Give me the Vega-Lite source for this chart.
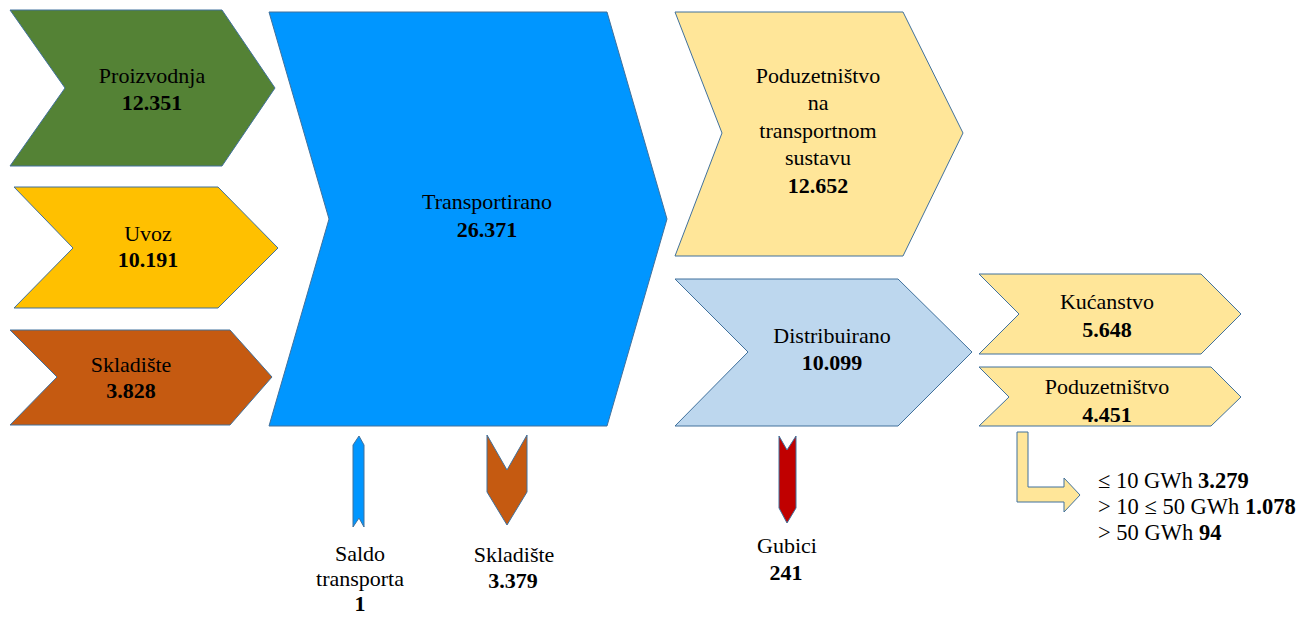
{
  "$schema": "https://vega.github.io/schema/vega-lite/v6.json",
  "width": 1303,
  "height": 618,
  "padding": 0,
  "autosize": "none",
  "background": "white",
  "config": {"view": {"stroke": null}},
  "projection": {"type": "identity", "scale": 1, "translate": [0, 0]},
  "layer": [
    {
      "data": {"values": [
        {"id": "Proizvodnja", "geo": {"type": "Feature", "properties": {}, "geometry": {"type": "Polygon", "coordinates": [[[10,10],[222,10],[275,88],[222,166],[10,166],[65,88],[10,10]]]}}},
        {"id": "Uvoz", "geo": {"type": "Feature", "properties": {}, "geometry": {"type": "Polygon", "coordinates": [[[14,187],[218,187],[278,248],[218,308],[14,308],[73,248],[14,187]]]}}},
        {"id": "Skladište ulaz", "geo": {"type": "Feature", "properties": {}, "geometry": {"type": "Polygon", "coordinates": [[[10,330],[230,330],[272,377],[230,425],[10,425],[57,377],[10,330]]]}}},
        {"id": "Transportirano", "geo": {"type": "Feature", "properties": {}, "geometry": {"type": "Polygon", "coordinates": [[[269,12],[607,12],[667,219],[607,426],[269,426],[329,219],[269,12]]]}}},
        {"id": "Poduzetništvo na transportnom sustavu", "geo": {"type": "Feature", "properties": {}, "geometry": {"type": "Polygon", "coordinates": [[[675,12],[903,12],[963,133],[903,256],[675,256],[722,133],[675,12]]]}}},
        {"id": "Distribuirano", "geo": {"type": "Feature", "properties": {}, "geometry": {"type": "Polygon", "coordinates": [[[675,279],[898,279],[972,352],[898,426],[675,426],[748,352],[675,279]]]}}},
        {"id": "Kućanstvo", "geo": {"type": "Feature", "properties": {}, "geometry": {"type": "Polygon", "coordinates": [[[979,274],[1201,274],[1241,314],[1201,354],[979,354],[1019,314],[979,274]]]}}},
        {"id": "Poduzetništvo", "geo": {"type": "Feature", "properties": {}, "geometry": {"type": "Polygon", "coordinates": [[[979,367],[1211,367],[1241,397],[1211,426],[979,426],[1009,397],[979,367]]]}}},
        {"id": "Saldo transporta", "geo": {"type": "Feature", "properties": {}, "geometry": {"type": "Polygon", "coordinates": [[[353,445],[359,436],[364,445],[364,527],[359,518],[353,527],[353,445]]]}}},
        {"id": "Skladište izlaz", "geo": {"type": "Feature", "properties": {}, "geometry": {"type": "Polygon", "coordinates": [[[487,435],[507,470],[527,435],[527,492],[507,525],[487,492],[487,435]]]}}},
        {"id": "Gubici", "geo": {"type": "Feature", "properties": {}, "geometry": {"type": "Polygon", "coordinates": [[[779,436],[787,450],[796,436],[796,508],[787,523],[779,508],[779,436]]]}}},
        {"id": "Podjela poduzetništva", "geo": {"type": "Feature", "properties": {}, "geometry": {"type": "Polygon", "coordinates": [[[1017,432],[1028,432],[1028,487],[1064,487],[1064,478],[1080,495],[1064,512],[1064,502],[1017,502],[1017,432]]]}}}
      ]},
      "mark": {"type": "geoshape", "stroke": "#41719C", "strokeWidth": 1},
      "encoding": {
        "shape": {"field": "geo", "type": "geojson"},
        "fill": {
          "field": "id",
          "type": "nominal",
          "legend": null,
          "scale": {
            "domain": ["Proizvodnja", "Uvoz", "Skladište ulaz", "Transportirano", "Poduzetništvo na transportnom sustavu", "Distribuirano", "Kućanstvo", "Poduzetništvo", "Saldo transporta", "Skladište izlaz", "Gubici", "Podjela poduzetništva"],
            "range": ["#548235", "#FFC000", "#C55A11", "#0096FF", "#FFE699", "#BDD7EE", "#FFE699", "#FFE699", "#0096FF", "#C55A11", "#C00000", "#FFE699"]
          }
        }
      }
    },
    {
      "data": {"values": [
        {"t": "Proizvodnja", "x": 152, "y": 83},
        {"t": "Uvoz", "x": 148, "y": 241},
        {"t": "Skladište", "x": 131, "y": 372},
        {"t": "Transportirano", "x": 487, "y": 209},
        {"t": "Poduzetništvo", "x": 818, "y": 83},
        {"t": "na", "x": 818, "y": 110},
        {"t": "transportnom", "x": 818, "y": 138},
        {"t": "sustavu", "x": 818, "y": 165},
        {"t": "Distribuirano", "x": 832, "y": 343},
        {"t": "Kućanstvo", "x": 1107, "y": 309},
        {"t": "Poduzetništvo", "x": 1107, "y": 394},
        {"t": "Saldo", "x": 360, "y": 561},
        {"t": "transporta", "x": 360, "y": 586},
        {"t": "Skladište", "x": 514, "y": 562},
        {"t": "Gubici", "x": 787, "y": 553}
      ]},
      "mark": {"type": "text", "font": "Liberation Serif", "fontSize": 22, "align": "center", "baseline": "alphabetic", "color": "black"},
      "encoding": {
        "longitude": {"field": "x", "type": "quantitative"},
        "latitude": {"field": "y", "type": "quantitative"},
        "text": {"field": "t", "type": "nominal"}
      }
    },
    {
      "data": {"values": [
        {"t": "12.351", "x": 152, "y": 110},
        {"t": "10.191", "x": 148, "y": 267},
        {"t": "3.828", "x": 131, "y": 398},
        {"t": "26.371", "x": 487, "y": 237},
        {"t": "12.652", "x": 818, "y": 193},
        {"t": "10.099", "x": 832, "y": 370},
        {"t": "5.648", "x": 1107, "y": 337},
        {"t": "4.451", "x": 1107, "y": 422},
        {"t": "1", "x": 360, "y": 611},
        {"t": "3.379", "x": 513, "y": 588},
        {"t": "241", "x": 786, "y": 580}
      ]},
      "mark": {"type": "text", "font": "Liberation Serif", "fontSize": 22, "fontWeight": "bold", "align": "center", "baseline": "alphabetic", "color": "black"},
      "encoding": {
        "longitude": {"field": "x", "type": "quantitative"},
        "latitude": {"field": "y", "type": "quantitative"},
        "text": {"field": "t", "type": "nominal"}
      }
    },
    {
      "data": {"values": [
        {"t": "≤ 10 GWh", "x": 1098, "y": 488},
        {"t": "> 10 ≤ 50 GWh", "x": 1098, "y": 514},
        {"t": "> 50 GWh", "x": 1098, "y": 540}
      ]},
      "mark": {"type": "text", "font": "Liberation Serif", "fontSize": 22.5, "align": "left", "baseline": "alphabetic", "color": "black"},
      "encoding": {
        "longitude": {"field": "x", "type": "quantitative"},
        "latitude": {"field": "y", "type": "quantitative"},
        "text": {"field": "t", "type": "nominal"}
      }
    },
    {
      "data": {"values": [
        {"t": "3.279", "x": 1198, "y": 488},
        {"t": "1.078", "x": 1245, "y": 514},
        {"t": "94", "x": 1199, "y": 540}
      ]},
      "mark": {"type": "text", "font": "Liberation Serif", "fontSize": 22.5, "fontWeight": "bold", "align": "left", "baseline": "alphabetic", "color": "black"},
      "encoding": {
        "longitude": {"field": "x", "type": "quantitative"},
        "latitude": {"field": "y", "type": "quantitative"},
        "text": {"field": "t", "type": "nominal"}
      }
    }
  ]
}
